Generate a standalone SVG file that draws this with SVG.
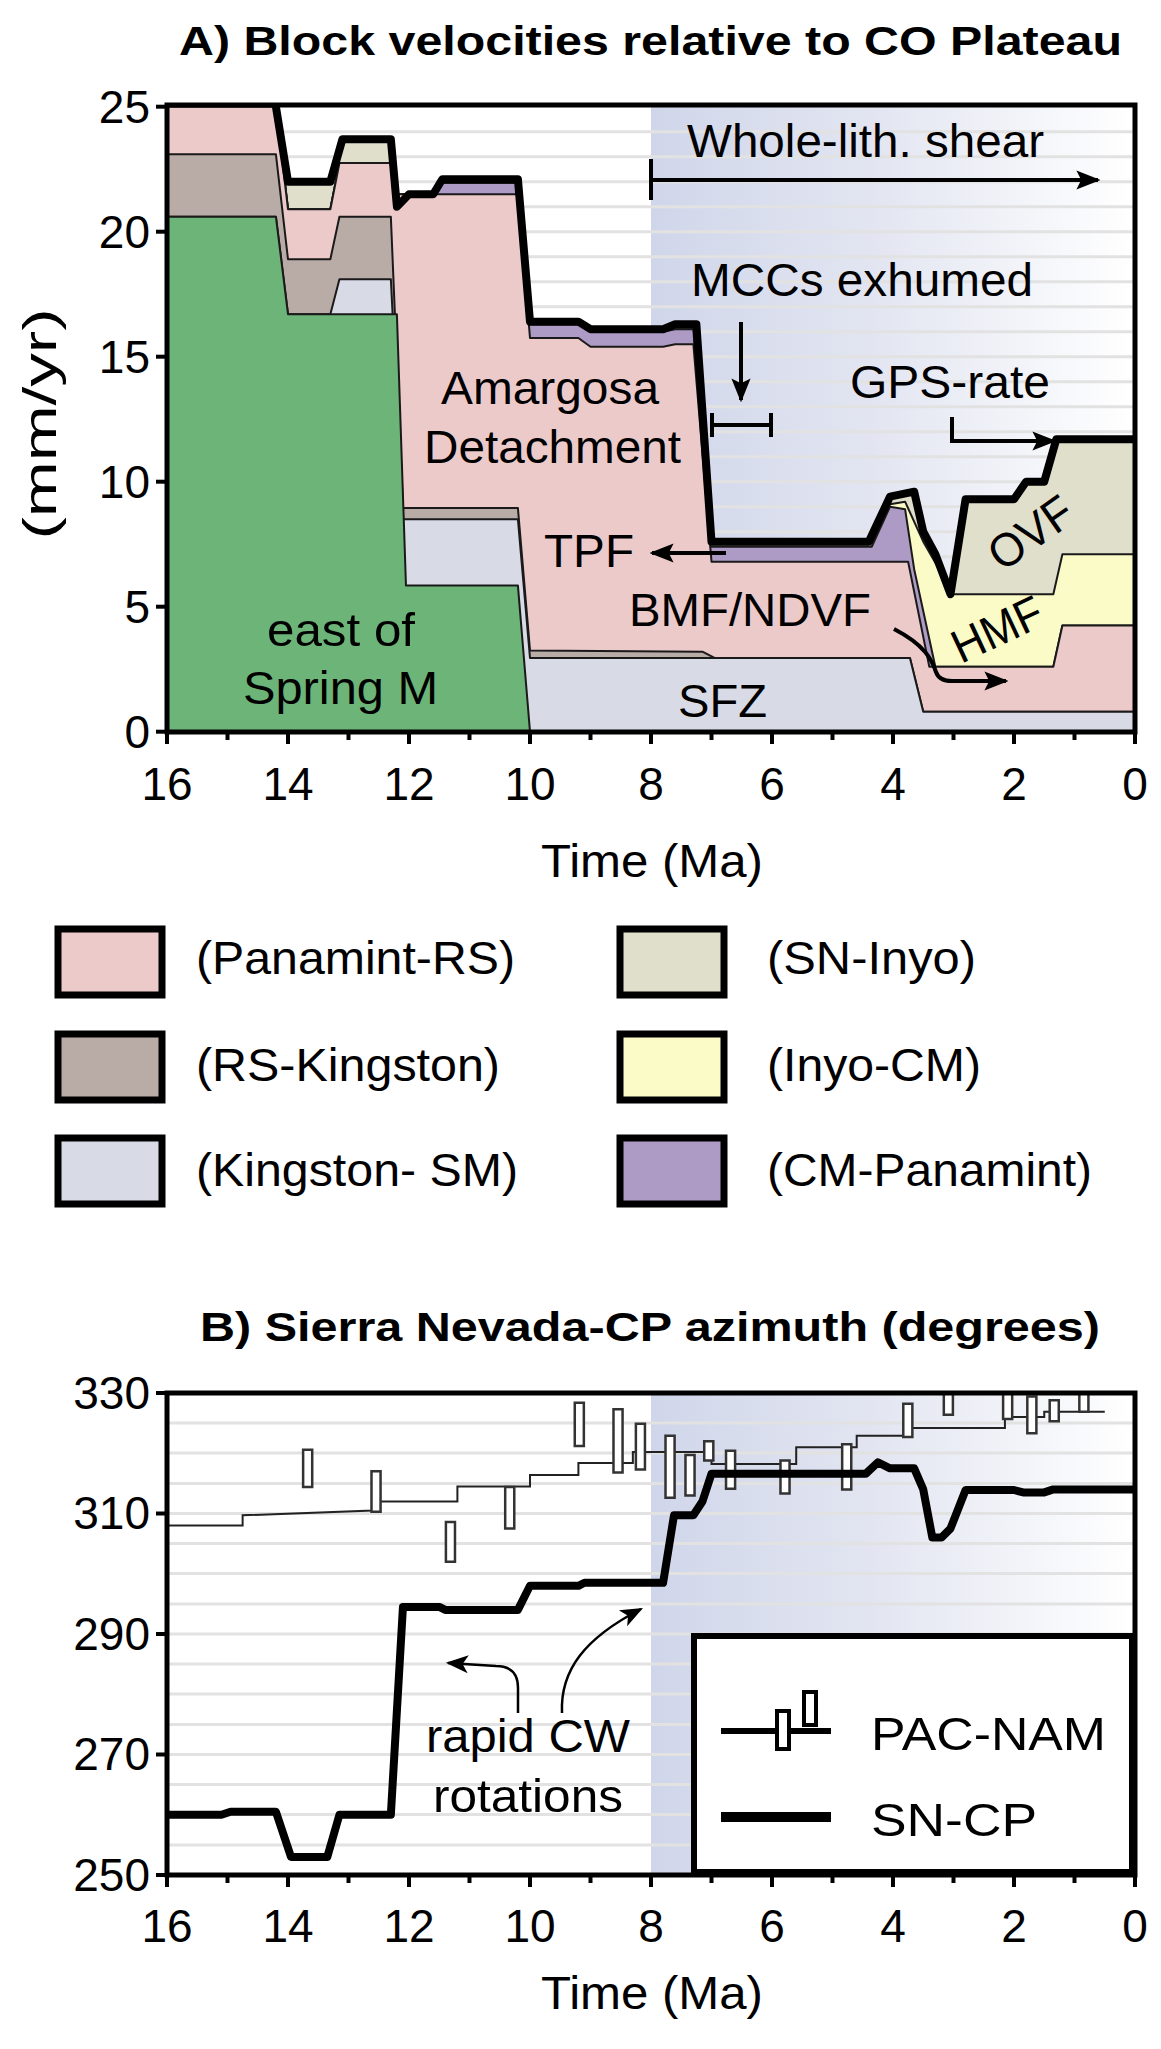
<svg xmlns="http://www.w3.org/2000/svg" width="1161" height="2049" viewBox="0 0 1161 2049">
<style>
text{font-family:"Liberation Sans",Arial,sans-serif;fill:#000}
.t{font-size:46px}
.ttl{font-size:41px;font-weight:bold}
.lab{font-size:47px}
.d{vector-effect:non-scaling-stroke;stroke:#1a1a1a;stroke-width:2;stroke-linejoin:round}
.blk{vector-effect:non-scaling-stroke;fill:none;stroke:#000;stroke-width:8;stroke-linejoin:round}
.grid line{stroke:#e2e2e2;stroke-width:3}
.ar{fill:none;stroke:#000;stroke-width:4}
.eb{vector-effect:non-scaling-stroke;fill:#fff;stroke:#333;stroke-width:2.5}
.lg{stroke:#000;stroke-width:7}
</style>
<defs>
<linearGradient id="gr" x1="0" y1="0" x2="1" y2="0">
<stop offset="0" stop-color="#d0d6ea"/>
<stop offset="0.45" stop-color="#e2e5f1"/>
<stop offset="1" stop-color="#ffffff"/>
</linearGradient>
<marker id="ah" viewBox="0 0 10 10" refX="9" refY="5" markerWidth="6" markerHeight="6" orient="auto-start-reverse" markerUnits="strokeWidth">
<path d="M0,1 L10,5 L0,9 L2,5 z" fill="#000"/>
</marker>
<marker id="ah2" viewBox="0 0 10 10" refX="9" refY="5" markerWidth="9" markerHeight="9" orient="auto-start-reverse" markerUnits="strokeWidth">
<path d="M0,1 L10,5 L0,9 L2.5,5 z" fill="#000"/>
</marker>
</defs>
<rect width="1161" height="2049" fill="#fff"/>

<g id="panelA">
<text class="ttl" x="179" y="55" textLength="943" lengthAdjust="spacingAndGlyphs">A) Block velocities relative to CO Plateau</text>
<rect x="651" y="106" width="484" height="626" fill="url(#gr)"/>
<g class="grid">
<line x1="167" x2="1135" y1="131.7" y2="131.7"/><line x1="167" x2="1135" y1="156.7" y2="156.7"/><line x1="167" x2="1135" y1="181.7" y2="181.7"/><line x1="167" x2="1135" y1="206.7" y2="206.7"/><line x1="167" x2="1135" y1="231.7" y2="231.7"/><line x1="167" x2="1135" y1="256.7" y2="256.7"/><line x1="167" x2="1135" y1="281.7" y2="281.7"/><line x1="167" x2="1135" y1="306.7" y2="306.7"/><line x1="167" x2="1135" y1="331.7" y2="331.7"/><line x1="167" x2="1135" y1="356.7" y2="356.7"/><line x1="167" x2="1135" y1="381.7" y2="381.7"/><line x1="167" x2="1135" y1="406.7" y2="406.7"/><line x1="167" x2="1135" y1="431.7" y2="431.7"/><line x1="167" x2="1135" y1="456.7" y2="456.7"/><line x1="167" x2="1135" y1="481.7" y2="481.7"/><line x1="167" x2="1135" y1="506.7" y2="506.7"/><line x1="167" x2="1135" y1="531.7" y2="531.7"/><line x1="167" x2="1135" y1="556.7" y2="556.7"/><line x1="167" x2="1135" y1="581.7" y2="581.7"/><line x1="167" x2="1135" y1="606.7" y2="606.7"/><line x1="167" x2="1135" y1="631.7" y2="631.7"/><line x1="167" x2="1135" y1="656.7" y2="656.7"/><line x1="167" x2="1135" y1="681.7" y2="681.7"/><line x1="167" x2="1135" y1="706.7" y2="706.7"/>
</g>
<g id="layersA" transform="matrix(-60.5 0 0 -25 1135 731.7)">
<polygon id="snInyo" class="d" fill="#e0dfcc" points="16,0 16,25 14.2,25 14.0,22.0 13.3,22.0 13.1,23.7 12.3,23.7 12.2,21.0 12.0,21.5 11.6,21.5 11.45,22.1 10.2,22.1 10.0,16.4 9.2,16.4 9.0,16.1 7.8,16.1 7.6,16.3 7.25,16.3 7.0,7.6 4.4,7.6 4.05,9.4 3.65,9.6 3.5,8.0 3.3,7.1 3.05,5.5 2.8,9.3 2.0,9.3 1.8,10.0 1.5,10.0 1.3,11.6 0,11.6 0,0"/>
<polygon id="inyoCM" class="d" fill="#fbfbc8" points="16,0 16,25 14.2,25 14.0,20.9 13.3,20.9 13.15,22.75 12.3,22.75 12.2,21.5 11.6,21.5 11.45,21.95 10.2,21.95 10.0,16.3 9.2,16.3 9.0,16.0 7.8,16.0 7.6,16.1 7.3,16.1 7.05,7.4 4.35,7.4 4.05,9.1 3.8,9.2 3.5,7.6 3.0,5.5 1.35,5.5 1.2,7.1 0,7.1 0,0"/>
<polygon id="cmPan" class="d" fill="#ad9bc6" points="16,0 16,25 14.2,25 14.0,20.9 13.3,20.9 13.15,22.75 12.3,22.75 12.2,21.5 11.6,21.5 11.45,21.95 10.2,21.95 10.0,16.3 9.2,16.3 9.0,16.0 7.8,16.0 7.6,16.1 7.3,16.1 7.05,7.4 4.35,7.4 4.05,9.0 3.8,8.9 3.65,6.5 3.3,2.6 1.35,2.6 1.2,4.25 0,4.25 0,0"/>
<polygon id="panRS" class="d" fill="#edcaca" points="16,0 16,25 14.2,25 14.0,20.9 13.3,20.9 13.15,22.75 12.3,22.75 12.2,21.5 10.2,21.5 10.0,15.75 9.2,15.75 9.0,15.4 7.8,15.4 7.6,15.5 7.3,15.5 7.0,6.8 3.75,6.8 3.4,2.6 1.35,2.6 1.2,4.25 0,4.25 0,0"/>
<polygon id="rsKing" class="d" fill="#b9aba6" points="16,0 16,23.1 14.2,23.1 14.0,18.9 13.3,18.9 13.15,20.6 12.3,20.6 12.1,8.95 10.2,8.95 10.0,3.25 7.15,3.2 6.95,2.95 3.72,2.95 3.5,0.8 0,0.8 0,0"/>
<polygon id="kingSM" class="d" fill="#d8dae6" points="16,0 16,20.6 14.2,20.6 14.0,16.7 13.3,16.7 13.15,18.1 12.3,18.1 12.1,8.5 10.2,8.5 10.0,2.95 3.72,2.95 3.5,0.8 0,0.8 0,0"/>
<polygon id="eastSM" class="d" fill="#6cb478" points="16,0 16,20.6 14.2,20.6 14.0,16.7 12.2,16.7 12.05,5.85 10.2,5.85 10.0,0"/>
<polyline id="total" class="blk" points="14.2,25 14.0,22.0 13.3,22.0 13.1,23.7 12.3,23.7 12.2,21.0 12.0,21.5 11.6,21.5 11.45,22.1 10.2,22.1 10.0,16.4 9.2,16.4 9.0,16.1 7.8,16.1 7.6,16.3 7.25,16.3 7.0,7.6 4.4,7.6 4.05,9.4 3.65,9.6 3.5,8.0 3.3,7.1 3.05,5.5 2.8,9.3 2.0,9.3 1.8,10.0 1.5,10.0 1.3,11.7 0,11.7"/>
</g>
<rect x="167" y="105" width="968" height="627" fill="none" stroke="#000" stroke-width="5"/>
<g stroke="#000" stroke-width="4">
<line x1="167" x2="167" y1="732" y2="744"/><line x1="227.5" x2="227.5" y1="732" y2="740"/><line x1="288" x2="288" y1="732" y2="744"/><line x1="348.5" x2="348.5" y1="732" y2="740"/><line x1="409" x2="409" y1="732" y2="744"/><line x1="469.5" x2="469.5" y1="732" y2="740"/><line x1="530" x2="530" y1="732" y2="744"/><line x1="590.5" x2="590.5" y1="732" y2="740"/><line x1="651" x2="651" y1="732" y2="744"/><line x1="711.5" x2="711.5" y1="732" y2="740"/><line x1="772" x2="772" y1="732" y2="744"/><line x1="832.5" x2="832.5" y1="732" y2="740"/><line x1="893" x2="893" y1="732" y2="744"/><line x1="953.5" x2="953.5" y1="732" y2="740"/><line x1="1014" x2="1014" y1="732" y2="744"/><line x1="1074.5" x2="1074.5" y1="732" y2="740"/><line x1="1135" x2="1135" y1="732" y2="744"/>
<line x1="156" x2="167" y1="106.7" y2="106.7"/><line x1="156" x2="167" y1="231.7" y2="231.7"/><line x1="156" x2="167" y1="356.7" y2="356.7"/><line x1="156" x2="167" y1="481.7" y2="481.7"/><line x1="156" x2="167" y1="606.7" y2="606.7"/><line x1="156" x2="167" y1="731.7" y2="731.7"/>
</g>
<g class="t" text-anchor="end">
<text x="150" y="123">25</text><text x="150" y="248">20</text><text x="150" y="373">15</text><text x="150" y="498">10</text><text x="150" y="623">5</text><text x="150" y="748">0</text>
</g>
<g class="t" text-anchor="middle">
<text x="167" y="800">16</text><text x="288" y="800">14</text><text x="409" y="800">12</text><text x="530" y="800">10</text><text x="651" y="800">8</text><text x="772" y="800">6</text><text x="893" y="800">4</text><text x="1014" y="800">2</text><text x="1135" y="800">0</text>
</g>
<text class="t" transform="translate(56,424) rotate(-90)" text-anchor="middle" textLength="231" lengthAdjust="spacingAndGlyphs">(mm/yr)</text>
<text class="t" x="541" y="877" textLength="222" lengthAdjust="spacingAndGlyphs">Time (Ma)</text>
<g id="annotA">
<text class="lab" x="687" y="157" textLength="357" lengthAdjust="spacingAndGlyphs">Whole-lith. shear</text>
<text class="lab" x="691" y="296" textLength="342" lengthAdjust="spacingAndGlyphs">MCCs exhumed</text>
<text class="lab" x="850" y="398" textLength="200" lengthAdjust="spacingAndGlyphs">GPS-rate</text>
<text class="lab" x="441" y="404" textLength="218" lengthAdjust="spacingAndGlyphs">Amargosa</text>
<text class="lab" x="424" y="463" textLength="257" lengthAdjust="spacingAndGlyphs">Detachment</text>
<text class="lab" x="544" y="567" textLength="90" lengthAdjust="spacingAndGlyphs">TPF</text>
<text class="lab" x="629" y="626" textLength="242" lengthAdjust="spacingAndGlyphs">BMF/NDVF</text>
<text class="lab" x="678" y="717" textLength="89" lengthAdjust="spacingAndGlyphs">SFZ</text>
<text class="lab" x="267" y="646" textLength="148" lengthAdjust="spacingAndGlyphs">east of</text>
<text class="lab" x="243" y="704" textLength="195" lengthAdjust="spacingAndGlyphs">Spring M</text>
<text class="lab" text-anchor="middle" transform="translate(1040,546) rotate(-35)" textLength="92" lengthAdjust="spacingAndGlyphs">OVF</text>
<text class="lab" text-anchor="middle" transform="translate(1004,644) rotate(-25)" textLength="95" lengthAdjust="spacingAndGlyphs">HMF</text>
</g>
</g>
<g id="connectorsA">
<line class="ar" x1="651" y1="159" x2="651" y2="200"/>
<line class="ar" x1="651" y1="180" x2="1098" y2="180" marker-end="url(#ah)"/>
<line class="ar" x1="741" y1="322" x2="741" y2="400" marker-end="url(#ah)"/>
<path class="ar" d="M712,413 V437 M712,425 H771 M771,413 V437"/>
<path class="ar" d="M952,417 V441 H1054" marker-end="url(#ah)"/>
<line class="ar" x1="726" y1="553" x2="652" y2="553" marker-end="url(#ah)"/>
<path class="ar" d="M894,629 C925,645 932,660 936,672 Q939,681 952,681 L1006,681" marker-end="url(#ah)"/>
</g>

<g id="legendA">
<g id="lg1"><rect class="lg" x="58" y="929" width="104" height="66" fill="#edcaca"/><text class="t" x="196" y="974" textLength="319" lengthAdjust="spacingAndGlyphs">(Panamint-RS)</text></g>
<g id="lg2"><rect class="lg" x="58" y="1034" width="104" height="66" fill="#b9aba6"/><text class="t" x="196" y="1081" textLength="304" lengthAdjust="spacingAndGlyphs">(RS-Kingston)</text></g>
<g id="lg3"><rect class="lg" x="58" y="1138" width="104" height="66" fill="#d8dae6"/><text class="t" x="196" y="1186" textLength="322" lengthAdjust="spacingAndGlyphs">(Kingston- SM)</text></g>
<g id="lg4"><rect class="lg" x="620" y="929" width="104" height="66" fill="#e0dfcc"/><text class="t" x="767" y="974" textLength="209" lengthAdjust="spacingAndGlyphs">(SN-Inyo)</text></g>
<g id="lg5"><rect class="lg" x="620" y="1034" width="104" height="66" fill="#fbfbc8"/><text class="t" x="767" y="1081" textLength="214" lengthAdjust="spacingAndGlyphs">(Inyo-CM)</text></g>
<g id="lg6"><rect class="lg" x="620" y="1138" width="104" height="66" fill="#ad9bc6"/><text class="t" x="767" y="1186" textLength="325" lengthAdjust="spacingAndGlyphs">(CM-Panamint)</text></g>
</g>

<g id="panelB">
<text class="ttl" x="200" y="1341" textLength="900" lengthAdjust="spacingAndGlyphs">B) Sierra Nevada-CP azimuth (degrees)</text>
<rect x="651" y="1393" width="484" height="482" fill="url(#gr)"/>
<g class="grid">
<line x1="167" x2="1135" y1="1423" y2="1423"/><line x1="167" x2="1135" y1="1453" y2="1453"/><line x1="167" x2="1135" y1="1483.5" y2="1483.5"/><line x1="167" x2="1135" y1="1513.5" y2="1513.5"/><line x1="167" x2="1135" y1="1543.5" y2="1543.5"/><line x1="167" x2="1135" y1="1573.5" y2="1573.5"/><line x1="167" x2="1135" y1="1604" y2="1604"/><line x1="167" x2="1135" y1="1634" y2="1634"/><line x1="167" x2="1135" y1="1664" y2="1664"/><line x1="167" x2="1135" y1="1694" y2="1694"/><line x1="167" x2="1135" y1="1724.5" y2="1724.5"/><line x1="167" x2="1135" y1="1754.5" y2="1754.5"/><line x1="167" x2="1135" y1="1784.5" y2="1784.5"/><line x1="167" x2="1135" y1="1814.5" y2="1814.5"/><line x1="167" x2="1135" y1="1845" y2="1845"/>
</g>
<g id="dataB" transform="matrix(-60.5 0 0 -6.025 1135 3381.25)">
<polyline id="pacnam" fill="none" stroke="#222" stroke-width="2" style="vector-effect:non-scaling-stroke" points="16,308 14.75,308 14.75,309.7 12.6,310.5 12.6,312 11.2,312 11.2,314.5 10.0,314.5 10.0,316.4 9.2,316.4 9.2,318.4 8.3,318.4 8.3,320.2 7.0,320.2 7.0,318.2 5.6,318.2 5.6,321 4.6,321 4.6,322.9 3.7,322.9 3.7,324.2 2.15,324.2 2.15,326 1.5,326 1.5,326.9 0.5,326.9"/>
<g id="errbars">
<rect class="eb" x="13.6" y="314.4" width="0.15" height="6.2"/>
<rect class="eb" x="12.47" y="310.3" width="0.15" height="6.7"/>
<rect class="eb" x="11.24" y="302" width="0.15" height="6.6"/>
<rect class="eb" x="10.26" y="307.5" width="0.15" height="6.9"/>
<rect class="eb" x="9.11" y="321.2" width="0.15" height="7.2"/>
<rect class="eb" x="8.47" y="316.8" width="0.15" height="10.5"/>
<rect class="eb" x="8.1" y="317.3" width="0.15" height="7.6"/>
<rect class="eb" x="7.61" y="312.6" width="0.15" height="10.3"/>
<rect class="eb" x="7.28" y="313" width="0.15" height="6.7"/>
<rect class="eb" x="6.97" y="318.8" width="0.15" height="3.2"/>
<rect class="eb" x="6.61" y="314.1" width="0.15" height="6.3"/>
<rect class="eb" x="5.71" y="313.3" width="0.15" height="5.5"/>
<rect class="eb" x="4.69" y="314" width="0.15" height="7.5"/>
<rect class="eb" x="3.68" y="322.7" width="0.15" height="5.5"/>
<rect class="eb" x="3.01" y="326.4" width="0.15" height="3.6"/>
<rect class="eb" x="2.03" y="325.7" width="0.15" height="4.3"/>
<rect class="eb" x="1.63" y="323.3" width="0.15" height="6.1"/>
<rect class="eb" x="1.26" y="325.3" width="0.15" height="3.5"/>
<rect class="eb" x="0.77" y="326.9" width="0.15" height="3.1"/>
</g>
<polyline id="sncp" class="blk" points="16,260 15.1,260 14.95,260.5 14.2,260.5 13.95,253 13.35,253 13.15,260 12.3,260 12.1,294.5 11.5,294.5 11.4,294 10.2,294 10.0,298 9.2,298 9.1,298.5 7.8,298.5 7.62,309.7 7.3,309.7 7.15,312 7.0,316.6 4.45,316.6 4.25,318.5 4.05,317.5 3.65,317.5 3.5,314 3.35,306 3.2,306 3.05,307.5 2.8,313.9 2.0,313.9 1.85,313.5 1.5,313.5 1.35,314 0,314"/>
</g>
<rect x="167" y="1393" width="968" height="482" fill="none" stroke="#000" stroke-width="5"/>
<g stroke="#000" stroke-width="4">
<line x1="167" x2="167" y1="1875" y2="1887"/><line x1="227.5" x2="227.5" y1="1875" y2="1883"/><line x1="288" x2="288" y1="1875" y2="1887"/><line x1="348.5" x2="348.5" y1="1875" y2="1883"/><line x1="409" x2="409" y1="1875" y2="1887"/><line x1="469.5" x2="469.5" y1="1875" y2="1883"/><line x1="530" x2="530" y1="1875" y2="1887"/><line x1="590.5" x2="590.5" y1="1875" y2="1883"/><line x1="651" x2="651" y1="1875" y2="1887"/><line x1="711.5" x2="711.5" y1="1875" y2="1883"/><line x1="772" x2="772" y1="1875" y2="1887"/><line x1="832.5" x2="832.5" y1="1875" y2="1883"/><line x1="893" x2="893" y1="1875" y2="1887"/><line x1="953.5" x2="953.5" y1="1875" y2="1883"/><line x1="1014" x2="1014" y1="1875" y2="1887"/><line x1="1074.5" x2="1074.5" y1="1875" y2="1883"/><line x1="1135" x2="1135" y1="1875" y2="1887"/>
<line x1="156" x2="167" y1="1393" y2="1393"/><line x1="156" x2="167" y1="1513.5" y2="1513.5"/><line x1="156" x2="167" y1="1634" y2="1634"/><line x1="156" x2="167" y1="1754.5" y2="1754.5"/><line x1="156" x2="167" y1="1875" y2="1875"/>
</g>
<g class="t" text-anchor="end">
<text x="150" y="1409">330</text><text x="150" y="1529">310</text><text x="150" y="1650">290</text><text x="150" y="1770">270</text><text x="150" y="1891">250</text>
</g>
<g class="t" text-anchor="middle">
<text x="167" y="1942">16</text><text x="288" y="1942">14</text><text x="409" y="1942">12</text><text x="530" y="1942">10</text><text x="651" y="1942">8</text><text x="772" y="1942">6</text><text x="893" y="1942">4</text><text x="1014" y="1942">2</text><text x="1135" y="1942">0</text>
</g>
<text class="t" x="541" y="2009" textLength="222" lengthAdjust="spacingAndGlyphs">Time (Ma)</text>
<text class="lab" x="528" y="1752" text-anchor="middle" textLength="204" lengthAdjust="spacingAndGlyphs">rapid CW</text>
<text class="lab" x="528" y="1812" text-anchor="middle" textLength="190" lengthAdjust="spacingAndGlyphs">rotations</text>
</g>
<g id="connectorsB">
<path d="M518,1713 V1688 Q518,1666 496,1666 L448,1663" fill="none" stroke="#000" stroke-width="2.5" marker-end="url(#ah2)"/>
<path d="M562,1713 C560,1670 585,1638 641,1609" fill="none" stroke="#000" stroke-width="2.5" marker-end="url(#ah2)"/>
</g>
<g id="legendB">
<rect x="694" y="1636" width="438" height="236" fill="#fff" stroke="#000" stroke-width="6"/>
<line x1="721" y1="1731" x2="831" y2="1731" stroke="#000" stroke-width="6"/>
<rect x="777" y="1711" width="12" height="38" fill="#fff" stroke="#000" stroke-width="4"/>
<rect x="804" y="1692" width="12" height="33" fill="#fff" stroke="#000" stroke-width="4"/>
<text class="t" x="871" y="1750" textLength="235" lengthAdjust="spacingAndGlyphs">PAC-NAM</text>
<line x1="721" y1="1817" x2="831" y2="1817" stroke="#000" stroke-width="10"/>
<text class="t" x="871" y="1836" textLength="166" lengthAdjust="spacingAndGlyphs">SN-CP</text>
</g>
</svg>
